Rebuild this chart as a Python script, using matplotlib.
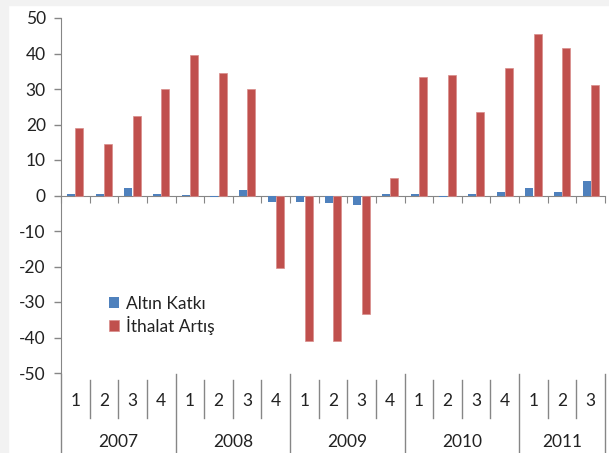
import matplotlib
matplotlib.use('Agg')
import matplotlib.pyplot as plt
import numpy as np
from matplotlib.patches import Rectangle

# quarterly data 2007Q1 - 2011Q3
years = ['2007', '2008', '2009', '2010', '2011']
quarters_per_year = [4, 4, 4, 4, 3]
quarter_labels = ['1', '2', '3', '4'] * 4 + ['1', '2', '3']
altin_katki = [0.5, 0.5, 2.0, 0.5,
               0.1, -0.5, 1.6, -1.9,
               -1.9, -2.1, -2.8, 0.5,
               0.5, -0.3, 0.5, 1.1,
               2.2, 1.1, 4.0]
ithalat_artis = [19.0, 14.5, 22.5, 30.0,
                 39.5, 34.5, 30.0, -20.5,
                 -41.0, -41.0, -33.5, 5.0,
                 33.5, 34.0, 23.5, 36.0,
                 45.5, 41.5, 31.0]
y_ticks = [-50, -40, -30, -20, -10, 0, 10, 20, 30, 40, 50]

blue = '#4F81BD'
red = '#C0504D'
axis_gray = '#868686'
plt.rcParams['font.family'] = ['Lato', 'DejaVu Sans']

W, H = 609, 453
fig = plt.figure(figsize=(W / 100, H / 100), dpi=100)
fig.patch.set_facecolor('white')
# light gray strips at top and left
fig.add_artist(Rectangle((0, 0), 8 / W, 1, transform=fig.transFigure, color='#f2f2f2', zorder=0))
fig.add_artist(Rectangle((0, 1 - 5 / H), 1, 5 / H, transform=fig.transFigure, color='#f2f2f2', zorder=0))

left, right, top, bottom = 61 / W, 605 / W, 1 - 18 / H, 1 - 373 / H
ax = fig.add_axes([left, bottom, right - left, top - bottom])

n = len(ithalat_artis)
x = np.arange(n)
w = 0.28
ax.bar(x - 0.145, altin_katki, w, color=blue, zorder=3, label='Altın Katkı')
ax.bar(x + 0.145, ithalat_artis, w, color=red, edgecolor='#d98c8a', linewidth=0.5,
       zorder=3, label='İthalat Artış')

ax.set_xlim(-0.5, n - 0.5)
ax.set_ylim(-50, 50)
ax.set_yticks(y_ticks)
ax.set_yticklabels([str(v) for v in y_ticks])
ax.tick_params(axis='y', labelsize=12.5, colors=axis_gray, labelcolor='#222222',
               direction='out', length=5, width=1, pad=6)

for s in ['top', 'right']:
    ax.spines[s].set_visible(False)
ax.spines['left'].set_color(axis_gray)
ax.spines['bottom'].set_position(('data', 0))
ax.spines['bottom'].set_color(axis_gray)
ax.set_xticks(np.arange(-0.5, n, 1))
ax.set_xticklabels([])
ax.tick_params(axis='x', direction='out', length=5, colors=axis_gray)

# two-level category axis below the plot
trans = ax.get_xaxis_transform()
ax_h = (top - bottom) * H
def ypix(p):
    # pixel row (from top of image) -> axes fraction
    return (1 - p / H - bottom) * H / ax_h

for i, q in enumerate(quarter_labels):
    ax.text(i, ypix(401), q, transform=trans, ha='center', va='center',
            fontsize=12.5, color='#222222', clip_on=False)

bounds = np.cumsum([0] + quarters_per_year)
for i in range(1, n):
    if i in bounds:
        continue
    ax.plot([i - 0.5, i - 0.5], [ypix(380), ypix(418)], transform=trans,
            color=axis_gray, lw=1, clip_on=False)
for b in bounds:
    ax.plot([b - 0.5, b - 0.5], [ypix(374), ypix(453)], transform=trans,
            color=axis_gray, lw=1, clip_on=False)
for k, yr in enumerate(years):
    c = (bounds[k] + bounds[k + 1]) / 2 - 0.5
    ax.text(c, ypix(442), yr, transform=trans, ha='center', va='center',
            fontsize=12.5, color='#222222', clip_on=False)

leg = fig.legend(loc='upper left', bbox_to_anchor=(100 / W, 1 - 287 / H), frameon=False,
                 fontsize=12.5, handlelength=0.6, handleheight=0.6, handletextpad=0.4,
                 labelspacing=0.25, borderpad=0)
for t in leg.get_texts():
    t.set_color('#222222')

fig.savefig('out.png', dpi=100)
